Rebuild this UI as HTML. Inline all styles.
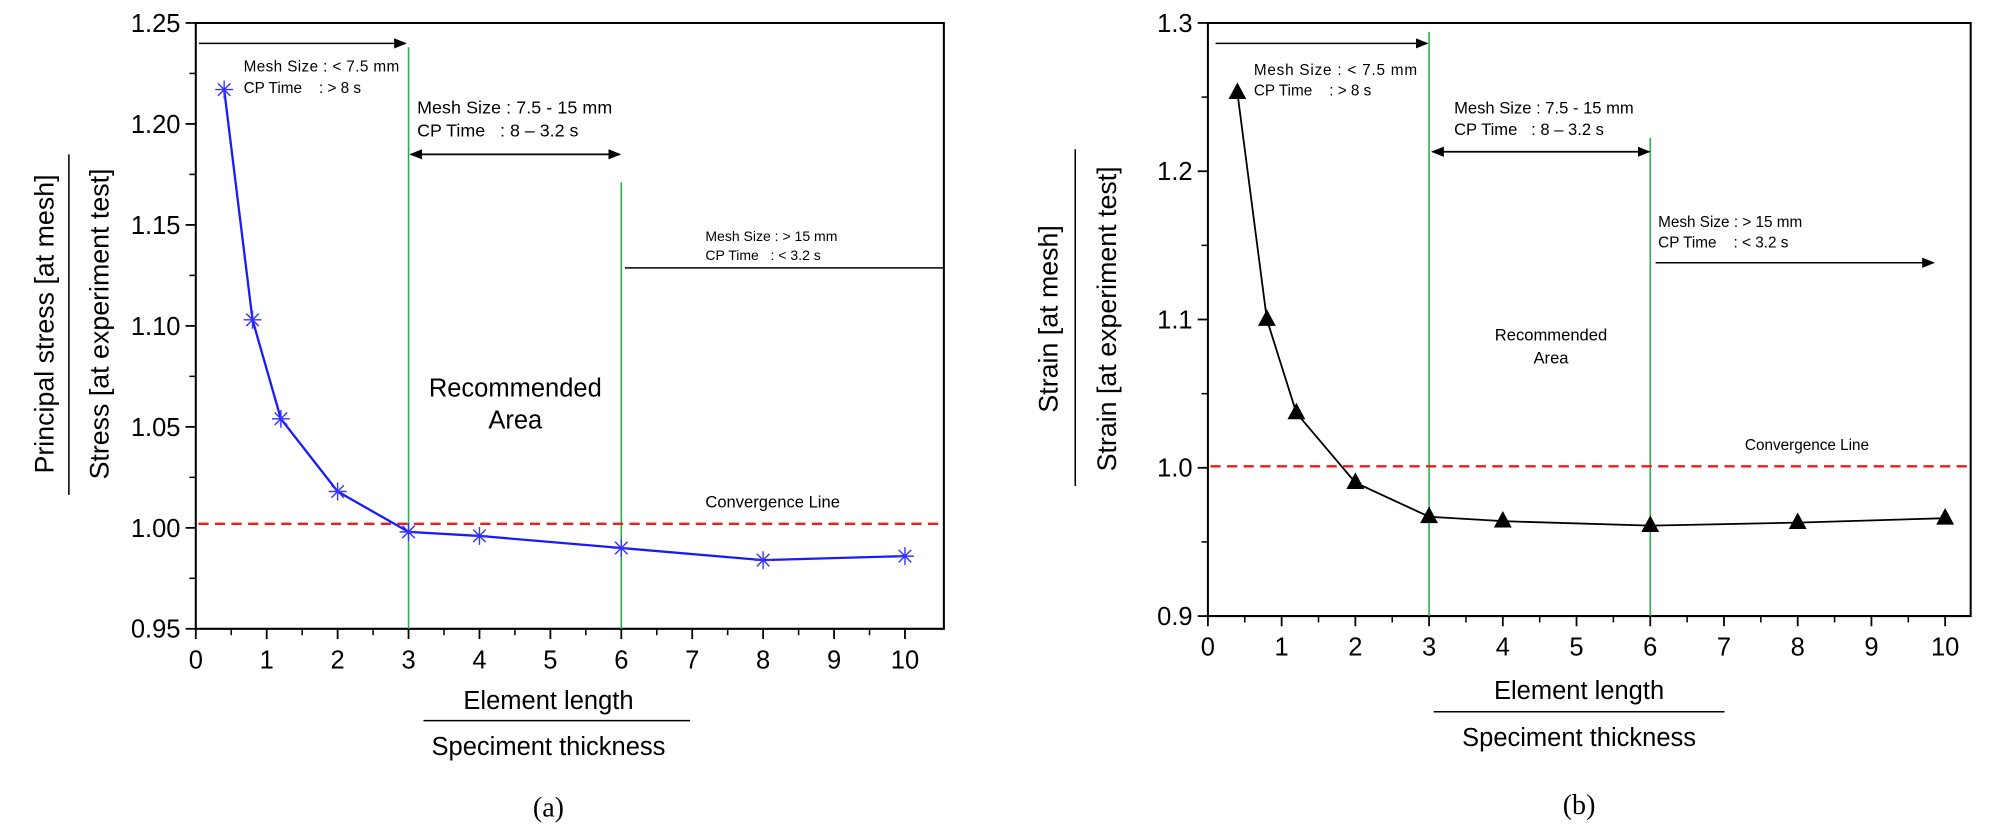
<!DOCTYPE html>
<html><head><meta charset="utf-8">
<style>
html,body{margin:0;padding:0;background:#fff;}
svg{display:block;}
text{font-family:"Liberation Sans",sans-serif;fill:#000;}
.serif{font-family:"Liberation Serif",serif;}
</style></head>
<body>
<svg id="fig" width="2000" height="832" viewBox="0 0 1568 652.3" preserveAspectRatio="none" xmlns="http://www.w3.org/2000/svg">
<defs>
<marker id="ah" markerWidth="10" markerHeight="8" refX="9" refY="4" orient="auto" markerUnits="userSpaceOnUse"><path d="M0,0 L10,4 L0,8 z" fill="#000"/></marker>
<marker id="ahs" markerWidth="10" markerHeight="8" refX="1" refY="4" orient="auto" markerUnits="userSpaceOnUse"><path d="M10,0 L0,4 L10,8 z" fill="#000"/></marker>
</defs>
<g id="chartA"></g>
<g id="chartB"></g>
</svg>
<script>
// Chart (a) data
const xsA = [0.4, 0.8, 1.2, 2, 3, 4, 6, 8, 10];
const ysA = [1.217, 1.103, 1.054, 1.018, 0.998, 0.996, 0.990, 0.984, 0.986];
const yTicksA = [0.95, 1.00, 1.05, 1.10, 1.15, 1.20, 1.25];
const yTickLabelsA = ["0.95", "1.00", "1.05", "1.10", "1.15", "1.20", "1.25"];
const convA = 1.002;
// Chart (b) data
const xsB = [0.4, 0.8, 1.2, 2, 3, 4, 6, 8, 10];
const ysB = [1.253, 1.100, 1.037, 0.990, 0.967, 0.964, 0.961, 0.963, 0.966];
const yTicksB = [0.9, 1.0, 1.1, 1.2, 1.3];
const yTickLabelsB = ["0.9", "1.0", "1.1", "1.2", "1.3"];
const convB = 1.001;
const xTicks = [0, 1, 2, 3, 4, 5, 6, 7, 8, 9, 10];
const boundaries = [3, 6];

const NS = "http://www.w3.org/2000/svg";
function mk(parent, tag, attrs, txt) {
  const e = document.createElementNS(NS, tag);
  for (const k in attrs) e.setAttribute(k, attrs[k]);
  if (txt !== undefined) e.textContent = txt;
  parent.appendChild(e);
  return e;
}

function drawChart(g, o) {
  const sx = v => o.x0 + (v - 0) / 10 * (o.x10 - o.x0);
  const sy = v => o.yb + (v - o.ymin) / (o.ymax - o.ymin) * (o.yt - o.yb);
  let e = mk(g, "path", {d:`M${o.x0},${o.yb} L${o.x0},${o.yt} L${o.xr},${o.yt} L${o.xr},${o.yb} Z`, fill:"none", stroke:"#000", "stroke-width":1.6});
  
  
  for (let i = 0; i < o.yTicks.length; i++) {
    const y = sy(o.yTicks[i]);
    e = mk(g, "line", {x1:o.x0-8, x2:o.x0, y1:y, y2:y, stroke:"#000", "stroke-width":1.4});
    
    
    e = mk(g, "text", {x:o.x0-12, y:y+7, "text-anchor":"end", "font-size":20}, o.yLabels[i]);
    
    
    if (i < o.yTicks.length - 1) {
      const ym = sy((o.yTicks[i] + o.yTicks[i+1]) / 2);
      e = mk(g, "line", {x1:o.x0-5, x2:o.x0, y1:ym, y2:ym, stroke:"#000", "stroke-width":1.2});
      
      
    }
  }
  for (let i = 0; i < xTicks.length; i++) {
    const x = sx(xTicks[i]);
    e = mk(g, "line", {x1:x, x2:x, y1:o.yb, y2:o.yb+8, stroke:"#000", "stroke-width":1.4});
    
    
    e = mk(g, "text", {x:x, y:o.yb+31, "text-anchor":"middle", "font-size":20}, String(xTicks[i]));
    
    
    if (i < xTicks.length - 1) {
      const xm = sx(xTicks[i] + 0.5);
      e = mk(g, "line", {x1:xm, x2:xm, y1:o.yb, y2:o.yb+5, stroke:"#000", "stroke-width":1.2});
      
      
    }
  }
  for (const b of boundaries) {
    e = mk(g, "line", {x1:sx(b), x2:sx(b), y1:o.gTop[boundaries.indexOf(b)], y2:o.yb, stroke:"#22b04a", "stroke-width":1.2});
    
    
  }
  e = mk(g, "line", {x1:o.x0+2, x2:o.xr, y1:sy(o.conv), y2:sy(o.conv), stroke:"#ee1c1c", "stroke-width":1.8, "stroke-dasharray":"8,5"});
  
  
  let d = "";
  for (let i = 0; i < o.xs.length; i++) d += (i ? "L" : "M") + sx(o.xs[i]) + "," + sy(o.ys[i]) + " ";
  e = mk(g, "path", {d:d, fill:"none", stroke:o.color, "stroke-width":o.lw});
  
  
  for (let i = 0; i < o.xs.length; i++) {
    const x = sx(o.xs[i]), y = sy(o.ys[i]);
    let m;
    if (o.marker === "star") {
      const r = 7;
      m = mk(g, "path", {d:`M${x-r},${y} L${x+r},${y} M${x},${y-r} L${x},${y+r} M${x-r*0.7},${y-r*0.7} L${x+r*0.7},${y+r*0.7} M${x-r*0.7},${y+r*0.7} L${x+r*0.7},${y-r*0.7}`, stroke:"#3333ff", "stroke-width":1.1, fill:"none"});
    } else {
      m = mk(g, "path", {d:`M${x},${y-8} L${x+7},${y+5} L${x-7},${y+5} Z`, fill:"#000"});
    }
    
    
  }
}

const gA = document.getElementById("chartA");
drawChart(gA, {x0:153.5, x10:709.5, xr:740, yt:18, yb:493, ymin:0.95, ymax:1.25, yTicks:yTicksA, yLabels:yTickLabelsA, xs:xsA, ys:ysA, conv:convA, color:"#1a1aff", lw:1.8, marker:"star", gTop:[37,143]});
const gB = document.getElementById("chartB");
drawChart(gB, {x0:947, x10:1525, xr:1545, yt:18, yb:483, ymin:0.9, ymax:1.3, yTicks:yTicksB, yLabels:yTickLabelsB, xs:xsB, ys:ysB, conv:convB, color:"#000", lw:1.4, marker:"tri", gTop:[25,108]});
</script>
<script>
(function(){
  const svg = document.getElementById("fig");
  const html = `
  <g>
    <line x1="156" y1="34" x2="318" y2="34" stroke="#000" stroke-width="1.2" marker-end="url(#ah)"/>
    <text x="191" y="56" font-size="12" textLength="122">Mesh Size : &lt; 7.5 mm</text>
    <text x="191" y="73" font-size="12">CP Time &#160;&#160;&#160;: &gt; 8 s</text>
    <text x="327" y="89" font-size="14" textLength="153">Mesh Size : 7.5 - 15 mm</text>
    <text x="327" y="107" font-size="14">CP Time &#160;&#160;: 8 – 3.2 s</text>
    <line x1="322" y1="121" x2="486" y2="121" stroke="#000" stroke-width="1.4" marker-end="url(#ah)" marker-start="url(#ahs)"/>
    <text x="553" y="189" font-size="11">Mesh Size : &gt; 15 mm</text>
    <text x="553" y="204" font-size="11">CP Time &#160;&#160;: &lt; 3.2 s</text>
    <line x1="490" y1="210" x2="740" y2="210" stroke="#000" stroke-width="1.2"/>
    <text x="404" y="311" font-size="20" text-anchor="middle">Recommended</text>
    <text x="404" y="336" font-size="20" text-anchor="middle">Area</text>
    <text x="553" y="398" font-size="13">Convergence Line</text>
    <text transform="translate(42,254) rotate(-90)" font-size="21" text-anchor="middle">Principal stress [at mesh]</text>
    <line x1="54" y1="121" x2="54" y2="388" stroke="#000" stroke-width="1.2"/>
    <text transform="translate(85,254) rotate(-90)" font-size="21" text-anchor="middle">Stress [at experiment test]</text>
    <text x="430" y="556" font-size="20" text-anchor="middle">Element length</text>
    <line x1="332" y1="565" x2="541" y2="565" stroke="#000" stroke-width="1.2"/>
    <text x="430" y="592" font-size="20" text-anchor="middle">Speciment thickness</text>
    <text class="serif" x="430" y="640" font-size="22" text-anchor="middle">(a)</text>
  </g>
  <g>
    <line x1="953" y1="34" x2="1119" y2="34" stroke="#000" stroke-width="1.2" marker-end="url(#ah)"/>
    <text x="983" y="59" font-size="12" textLength="128">Mesh Size : &lt; 7.5 mm</text>
    <text x="983" y="75" font-size="12">CP Time &#160;&#160;&#160;: &gt; 8 s</text>
    <text x="1140" y="89" font-size="13">Mesh Size : 7.5 - 15 mm</text>
    <text x="1140" y="106" font-size="13">CP Time &#160;&#160;: 8 – 3.2 s</text>
    <line x1="1123" y1="119" x2="1293" y2="119" stroke="#000" stroke-width="1.4" marker-end="url(#ah)" marker-start="url(#ahs)"/>
    <text x="1300" y="178" font-size="12">Mesh Size : &gt; 15 mm</text>
    <text x="1300" y="194" font-size="12">CP Time &#160;&#160;&#160;: &lt; 3.2 s</text>
    <line x1="1298" y1="206" x2="1516" y2="206" stroke="#000" stroke-width="1.2" marker-end="url(#ah)"/>
    <text x="1216" y="267" font-size="13" text-anchor="middle">Recommended</text>
    <text x="1216" y="285" font-size="13" text-anchor="middle">Area</text>
    <text x="1368" y="353" font-size="12">Convergence Line</text>
    <text transform="translate(829,250) rotate(-90)" font-size="21" text-anchor="middle">Strain [at mesh]</text>
    <line x1="843" y1="117" x2="843" y2="381" stroke="#000" stroke-width="1.2"/>
    <text transform="translate(875,250) rotate(-90)" font-size="21" text-anchor="middle">Strain [at experiment test]</text>
    <text x="1238" y="548" font-size="20" text-anchor="middle">Element length</text>
    <line x1="1124" y1="558" x2="1352" y2="558" stroke="#000" stroke-width="1.2"/>
    <text x="1238" y="585" font-size="20" text-anchor="middle">Speciment thickness</text>
    <text class="serif" x="1238" y="638" font-size="22" text-anchor="middle">(b)</text>
  </g>`;
  svg.insertAdjacentHTML("beforeend", html);
})();
</script>
</body></html>
